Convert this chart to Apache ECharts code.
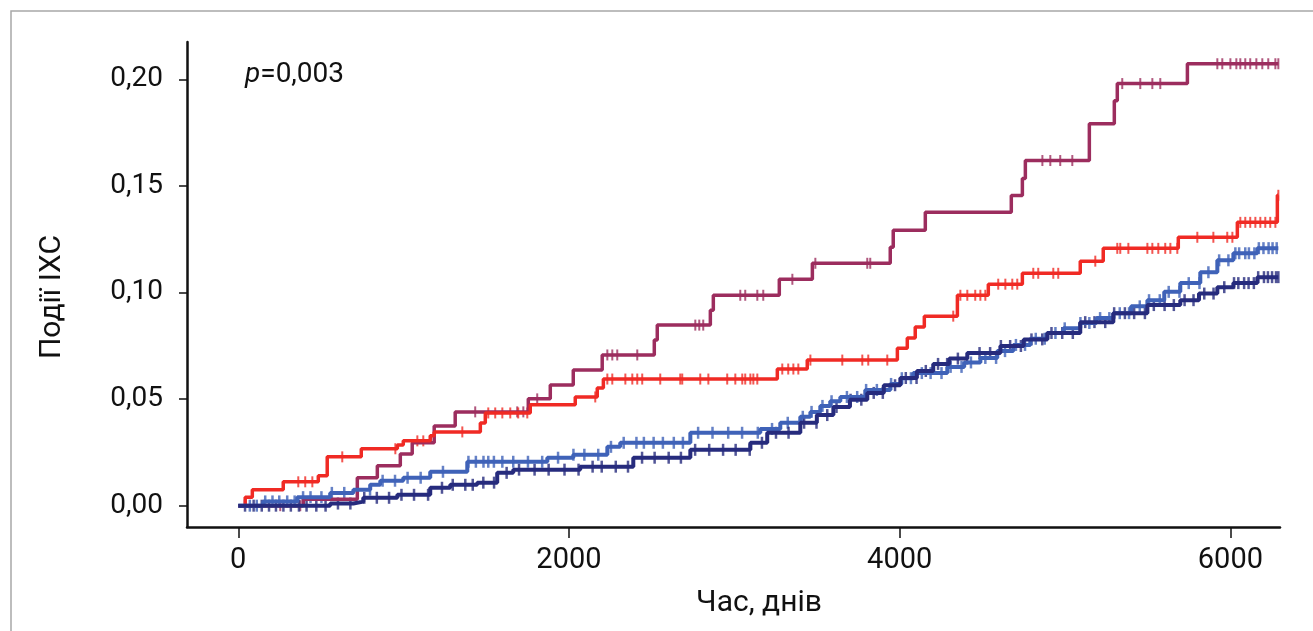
<!DOCTYPE html>
<html>
<head>
<meta charset="utf-8">
<script src="https://cdn.jsdelivr.net/npm/echarts@6/dist/echarts.min.js"></script>
<style>
html, body { margin: 0; padding: 0; background: #fff; }
#chart { width: 1313px; height: 631px; }
</style>
</head>
<body>
<div id="chart"></div>
<script>
// step points: [day, cumulative share of IHD events]
var purpleSteps = [[0,0],[393,0.003],[720,0.0131],[841,0.0187],[980,0.0243],[1052,0.0295],[1185,0.0374],[1312,0.044],
  [1754,0.0501],[1887,0.0566],[2026,0.0636],[2201,0.0707],[2516,0.0777],[2534,0.0847],[2855,0.0917],[2873,0.0987],
  [3272,0.1062],[3472,0.1137],[3943,0.1212],[3961,0.1292],[4155,0.1376],[4675,0.1455],[4742,0.1535],[4760,0.1619],
  [5147,0.1792],[5298,0.19],[5316,0.198],[5740,0.2073],[6290,0.2073]];
var redSteps = [[0,0],[42,0.004],[85,0.0075],[272,0.0112],[484,0.014],[538,0.0229],[744,0.0267],[962,0.0285],
  [998,0.0304],[1161,0.0328],[1185,0.0346],[1464,0.0388],[1494,0.0435],[1766,0.0473],[2038,0.051],[2171,0.0552],
  [2208,0.0594],[3260,0.0641],[3441,0.0683],[3986,0.0739],[4046,0.0786],[4094,0.0838],[4149,0.0889],[4349,0.0987],
  [4536,0.1039],[4742,0.109],[5092,0.1147],[5231,0.1207],[5685,0.1259],[6042,0.1329],[6284,0.1456],[6290,0.1456]];
var lightSteps = [[0,0],[151,0.002],[357,0.004],[556,0.006],[696,0.0075],[798,0.0098],[859,0.0117],[998,0.0131],
  [1161,0.0159],[1385,0.0206],[1869,0.0225],[2026,0.0239],[2232,0.0276],[2310,0.0295],[2734,0.0342],[3157,0.036],
  [3278,0.0389],[3399,0.0417],[3460,0.044],[3520,0.0468],[3580,0.049],[3641,0.051],[3792,0.0543],[3943,0.0571],
  [4010,0.0598],[4082,0.0622],[4288,0.0651],[4390,0.0672],[4488,0.0693],[4590,0.0725],[4687,0.0754],[4790,0.0783],
  [4893,0.081],[4990,0.0832],[5092,0.0857],[5190,0.088],[5292,0.0903],[5400,0.0935],[5498,0.0964],[5600,0.1003],
  [5697,0.1044],[5818,0.1095],[5921,0.1151],[6018,0.1184],[6163,0.1208],[6290,0.1208]];
var navySteps = [[0,0],[556,0.001],[696,0.0019],[756,0.0037],[962,0.0051],[1161,0.0084],[1282,0.0098],[1445,0.0108],
  [1566,0.0154],[1663,0.0169],[2068,0.0183],[2389,0.0225],[2734,0.0262],[3097,0.0295],[3199,0.0342],[3399,0.0389],
  [3499,0.0425],[3599,0.0463],[3699,0.0497],[3804,0.0529],[3904,0.0565],[4004,0.0599],[4104,0.0632],[4203,0.0665],
  [4300,0.069],[4409,0.0716],[4609,0.0749],[4750,0.078],[4893,0.081],[5092,0.0861],[5292,0.0903],[5498,0.0941],
  [5697,0.0964],[5810,0.0995],[5921,0.1025],[6018,0.1044],[6163,0.1072],[6290,0.1072]];

// censored observations (days)
var purpleCensor = [254, 375, 1433, 1687, 1724, 1808, 2232, 2262, 2292, 2413, 2764, 2788, 2812, 3036, 3066, 3139, 3175,
  3351, 3490, 3804, 3822, 4863, 4911, 4971, 5044, 5346, 5455, 5528, 5576, 5921, 5951, 6000, 6036, 6060, 6090, 6120,
  6157, 6193, 6229, 6272, 6290];
var redCensor = [363, 405, 448, 629, 950, 1083, 1119, 1355, 1512, 1554, 1597, 1645, 1693, 1748, 2159, 2232, 2262, 2341,
  2383, 2413, 2443, 2552, 2673, 2685, 2794, 2843, 2957, 3006, 3048, 3066, 3097, 3115, 3139, 3290, 3326, 3357, 3387,
  3460, 3653, 3774, 3810, 3925, 4324, 4367, 4409, 4457, 4488, 4518, 4596, 4639, 4681, 4711, 4808, 4838, 4929, 4959,
  5183, 5316, 5334, 5383, 5498, 5528, 5564, 5606, 5637, 5679, 5800, 5897, 5981, 6012, 6060, 6090, 6120, 6151, 6181,
  6211, 6241, 6272, 6290];
var lightCensor = [70, 112, 163, 207, 248, 296, 341, 392, 437, 503, 566, 641, 722, 797, 873, 948, 1024, 1103, 1238,
  1392, 1437, 1483, 1512, 1546, 1597, 1663, 1752, 1838, 1934, 2027, 2093, 2177, 2254, 2331, 2408, 2453, 2512, 2568,
  2634, 2689, 2781, 2868, 2963, 3047, 3142, 3228, 3323, 3414, 3467, 3533, 3588, 3681, 3743, 3797, 3862, 3948, 4013,
  4068, 4134, 4187, 4253, 4308, 4374, 4431, 4518, 4583, 4637, 4703, 4758, 4823, 4877, 4942, 4998, 5093, 5147, 5212,
  5268, 5331, 5387, 5452, 5508, 5573, 5627, 5692, 5748, 5813, 5867, 5932, 5988, 6030, 6053, 6090, 6112, 6145, 6172,
  6200, 6231, 6255, 6280];
var navyCensor = [41, 93, 142, 186, 228, 273, 318, 367, 413, 472, 528, 603, 678, 762, 838, 912, 987, 1063, 1148, 1232,
  1297, 1373, 1418, 1482, 1547, 1623, 1698, 1792, 1877, 1973, 2058, 2143, 2198, 2283, 2357, 2442, 2518, 2603, 2677,
  2763, 2848, 2932, 3008, 3093, 3167, 3252, 3328, 3422, 3497, 3562, 3618, 3703, 3768, 3843, 3898, 3972, 4037, 4102,
  4158, 4232, 4287, 4352, 4408, 4483, 4547, 4612, 4668, 4733, 4797, 4862, 4918, 4983, 5047, 5122, 5178, 5243, 5297,
  5362, 5418, 5483, 5537, 5602, 5658, 5723, 5777, 5842, 5898, 5963, 6022, 6048, 6083, 6110, 6142, 6168, 6203, 6227,
  6252, 6276, 6290];

var xTicks = [0, 2000, 4000, 6000];
var yTicks = [0, 0.05, 0.10, 0.15, 0.20];

var purple = '#9c2d5e', red = '#f02a24', light = '#3f62b8', navy = '#262b7d';

function stepAt(steps, t) {
  var v = steps[0][1];
  for (var i = 0; i < steps.length; i++) {
    if (steps[i][0] <= t) v = steps[i][1];
  }
  return v;
}
function marks(steps, times) {
  return times.map(function (t) { return [t, stepAt(steps, t)]; });
}
function curve(data, color, w) {
  return {
    type: 'line', step: 'end', data: data, showSymbol: false,
    lineStyle: { color: color, width: w }, itemStyle: { color: color }, silent: true
  };
}
function censor(data, color, size) {
  return {
    type: 'scatter', data: data, symbol: 'rect', symbolSize: size,
    itemStyle: { color: color }, silent: true
  };
}

var chart = echarts.init(document.getElementById('chart'));
var font = 'Roboto';
var option = {
  animation: false,
  grid: { left: 187, right: 33, top: 42, bottom: 104 },
  xAxis: {
    type: 'value', min: -310, max: 6300,
    splitLine: { show: false },
    axisLine: { onZero: false, lineStyle: { color: '#111', width: 2.5 } },
    axisTick: { customValues: xTicks, length: 11, lineStyle: { color: '#111', width: 1.5 } },
    axisLabel: {
      customValues: xTicks, margin: 19, color: '#111', fontSize: 29, fontFamily: font,
      formatter: function (v) { return String(v); }
    }
  },
  yAxis: {
    type: 'value', min: -0.01, max: 0.2175,
    splitLine: { show: false },
    axisLine: { show: true, onZero: false, lineStyle: { color: '#111', width: 2.5 } },
    axisTick: { show: true, customValues: yTicks, length: 8, lineStyle: { color: '#111', width: 1.5 } },
    axisLabel: {
      customValues: yTicks, margin: 24, color: '#111', fontSize: 28, fontFamily: font,
      formatter: function (v) { return v.toFixed(2).replace('.', ','); }
    }
  },
  series: [
    curve(purpleSteps, purple, 3.5),
    censor(marks(purpleSteps, purpleCensor), purple, [2, 11]),
    curve(redSteps, red, 3.5),
    censor(marks(redSteps, redCensor), red, [2, 11]),
    curve(lightSteps, light, 4),
    censor(marks(lightSteps, lightCensor), light, [2.5, 12]),
    curve(navySteps, navy, 4),
    censor(marks(navySteps, navyCensor), navy, [2.5, 12])
  ],
  graphic: [
    { type: 'polyline', shape: { points: [[11, 631], [11, 11], [1313, 11]] },
      style: { stroke: '#a8a8a8', lineWidth: 1.5, fill: null } },
    { type: 'text', x: 245, y: 75,
      style: { text: '{i|p}=0,003', fontSize: 28, fontFamily: font, fill: '#111', verticalAlign: 'middle',
        rich: { i: { fontStyle: 'italic', fontSize: 28, fontFamily: font } } } },
    { type: 'text', x: 759, y: 603,
      style: { text: 'Час, днів', fontSize: 30, fontFamily: font, fill: '#111', align: 'center', verticalAlign: 'middle' } },
    { type: 'text', x: 52, y: 297, rotation: Math.PI / 2,
      style: { text: 'Події ІХС', fontSize: 30, fontFamily: font, fill: '#111', align: 'center', verticalAlign: 'middle' } }
  ]
};
chart.setOption(option);
</script>
</body>
</html>
